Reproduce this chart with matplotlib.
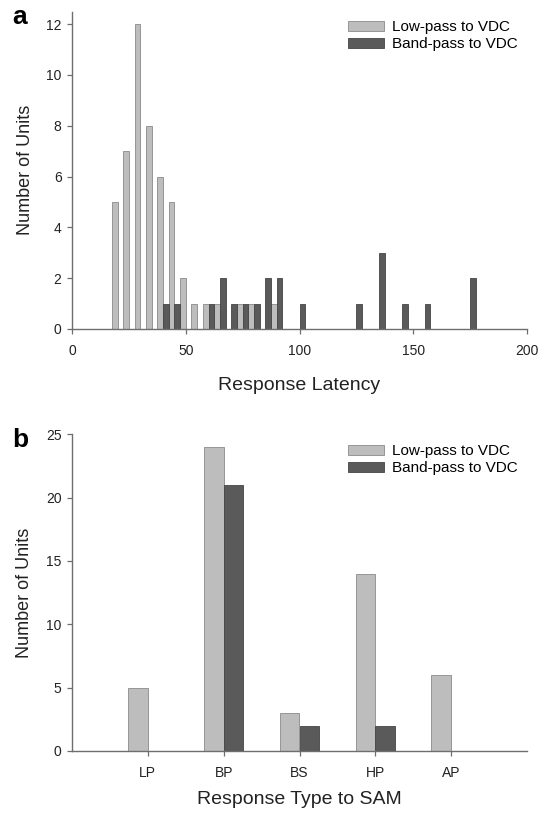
import numpy as np
import matplotlib
matplotlib.use("Agg")
import matplotlib.pyplot as plt

plt.rcParams['font.family'] = ['Liberation Sans', 'DejaVu Sans']

# panel a: latency bins (ms) and counts
lp_lat = [20, 25, 30, 35, 40, 45, 50, 55, 60, 65, 75, 80, 90]
lp_cnt = [5, 7, 12, 8, 6, 5, 2, 1, 1, 1, 1, 1, 1]
bp_lat = [40, 45, 60, 65, 70, 75, 80, 85, 90, 100, 125, 135, 145, 155, 175]
bp_cnt = [1, 1, 1, 2, 1, 1, 1, 2, 2, 1, 1, 3, 1, 1, 2]

# panel b: response type to SAM
types = ['LP', 'BP', 'BS', 'HP', 'AP']
lp_type = [5, 24, 3, 14, 6]
bp_type = [0, 21, 2, 2, 0]

labels = ['Low-pass to VDC', 'Band-pass to VDC']
light = '#bdbdbd'
light_edge = '#8a8a8a'
dark = '#5a5a5a'
dark_edge = '#444444'
axcol = '#6e6e6e'

fig = plt.figure(figsize=(5.39, 8.18), dpi=100)
ax1 = fig.add_axes([72/539, 1-329/818, 455/539, 317.5/818])
ax2 = fig.add_axes([72/539, 1-751/818, 455/539, 316.7/818])

def style(ax):
    for s in ['top', 'right']:
        ax.spines[s].set_visible(False)
    for s in ['left', 'bottom']:
        ax.spines[s].set_color(axcol)
        ax.spines[s].set_linewidth(1.0)
    ax.tick_params(axis='both', direction='out', length=3.5, width=0.9,
                   color=axcol, labelsize=10, labelcolor='#222222', pad=4)
    ax.tick_params(axis='x', pad=7)

# ---- panel a
w = 2.5
ax1.bar(np.array(lp_lat) - w/2, lp_cnt, width=w, color=light,
        edgecolor=light_edge, linewidth=0.6, label=labels[0])
ax1.bar(np.array(bp_lat) + w/2, bp_cnt, width=w, color=dark,
        edgecolor=dark_edge, linewidth=0.6, label=labels[1])
ax1.set_xlim(0, 200)
ax1.set_ylim(0, 12.5)
ax1.set_xticks([0, 50, 100, 150, 200])
ax1.set_yticks(range(0, 13, 2))
style(ax1)
ax1.set_xlabel('Response Latency', fontsize=14, labelpad=14, color='#222222')
ax1.set_ylabel('Number of Units', fontsize=13, labelpad=9, color='#222222')
ax1.legend(loc='upper left', bbox_to_anchor=(0.607, 0.973), frameon=False,
           fontsize=11, borderpad=0, borderaxespad=0, handlelength=2.35,
           handleheight=0.65, handletextpad=0.5, labelspacing=0.2)
fig.text(12/539, 1-24/818, 'a', fontsize=19, fontweight='bold', va='baseline')

# ---- panel b
x = np.arange(1, len(types) + 1)
bw = 0.26
ax2.bar(x - bw/2, lp_type, width=bw, color=light, edgecolor=light_edge,
        linewidth=0.6, label=labels[0])
ax2.bar(x + bw/2, bp_type, width=bw, color=dark, edgecolor=dark_edge,
        linewidth=0.6, label=labels[1])
ax2.set_xlim(0, 6)
ax2.set_ylim(0, 25)
ax2.set_xticks(x)
ax2.set_xticklabels(types)
ax2.set_yticks(range(0, 26, 5))
style(ax2)
ax2.set_xlabel('Response Type to SAM', fontsize=14, labelpad=8, color='#222222')
ax2.set_ylabel('Number of Units', fontsize=13, labelpad=9, color='#222222')
ax2.legend(loc='upper left', bbox_to_anchor=(0.607, 0.969), frameon=False,
           fontsize=11, borderpad=0, borderaxespad=0, handlelength=2.35,
           handleheight=0.65, handletextpad=0.5, labelspacing=0.2)
fig.text(12/539, 1-447/818, 'b', fontsize=19, fontweight='bold', va='baseline')

fig.savefig('out.png', dpi=100)
